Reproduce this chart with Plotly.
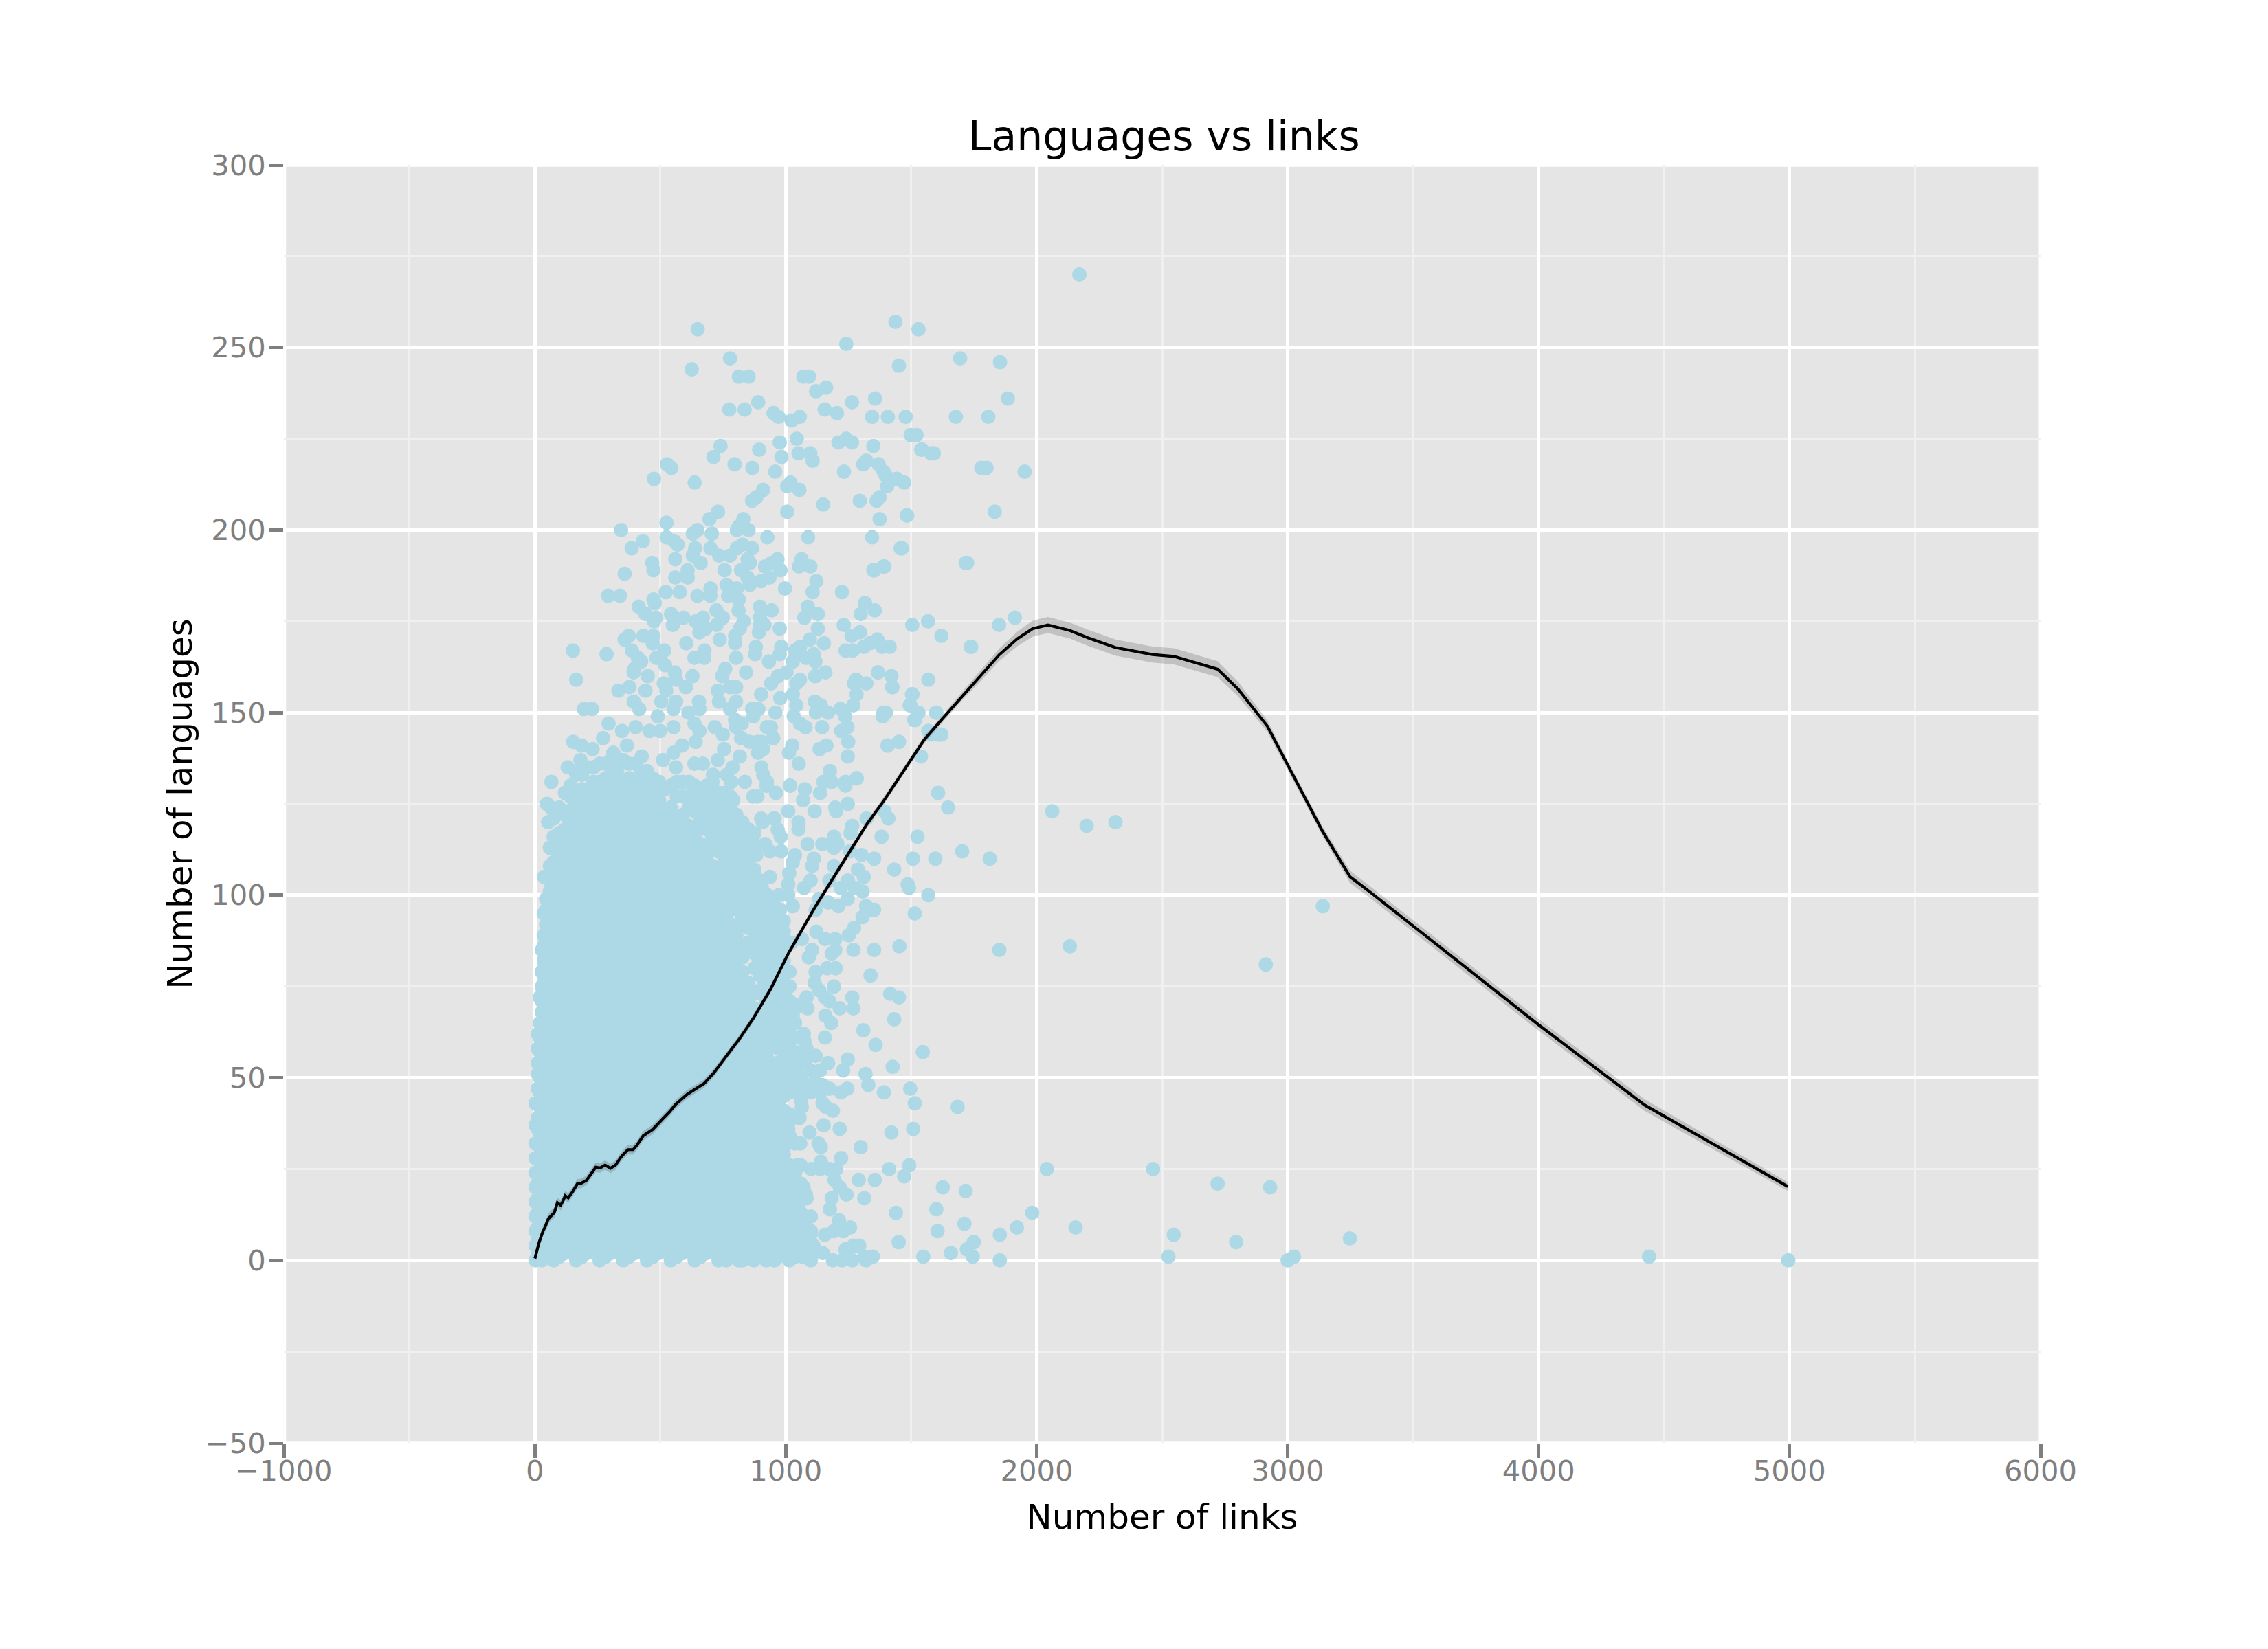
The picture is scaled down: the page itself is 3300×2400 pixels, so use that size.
import plotly.graph_objects as go

# ---------- tick values / text ----------
title_text = "Languages vs links"
x_label = "Number of links"
y_label = "Number of languages"
x_ticks = [-1000, 0, 1000, 2000, 3000, 4000, 5000, 6000]
y_ticks = [-50, 0, 50, 100, 150, 200, 250, 300]

# ---------- dense mass: one list of language counts for each link count ----------
core_links = [3, 12, 20, 28, 36, 45, 60, 75, 98, 120, 142, 165, 188, 210, 234, 258, 282, 305, 328, 352, 376, 400, 424,
              447, 471, 495, 518, 542, 566, 590, 614, 637, 661, 685, 708, 732, 756, 780, 803, 827, 851, 875, 898, 922,
              946, 970, 992, 1015, 1037, 1060, 1080, 1100]
core_langs = [
    [0, 4, 8, 12, 16, 20, 24, 28, 32, 37, 43],
    [2, 6, 9, 13, 17, 21, 24, 28, 32, 36, 39, 43, 47, 51, 54, 58, 62],
    [1, 5, 9, 12, 16, 20, 24, 27, 31, 35, 39, 42, 46, 50, 54, 57, 61, 65, 72],
    [0, 4, 8, 11, 15, 19, 23, 26, 30, 34, 38, 41, 45, 49, 53, 56, 60, 64, 68, 71, 75, 79, 85],
    [3, 7, 11, 14, 18, 22, 26, 29, 33, 37, 41, 44, 48, 52, 56, 59, 63, 67, 71, 74, 78, 82, 86, 89, 95],
    [2, 6, 9, 13, 17, 21, 24, 28, 32, 36, 39, 43, 47, 51, 54, 58, 62, 66, 69, 73, 77, 81, 84, 88, 92, 96, 99, 105],
    [3, 7, 11, 14, 18, 22, 26, 29, 33, 37, 41, 44, 48, 52, 56, 59, 63, 67, 71, 74, 78, 82, 86, 89, 93, 97, 101, 104, 108, 113],
    [0, 4, 8, 11, 15, 19, 23, 26, 30, 34, 38, 41, 45, 49, 53, 56, 60, 64, 68, 71, 75, 79, 83, 86, 90, 94, 98, 101, 105, 109, 113, 116, 121],
    [1, 5, 9, 12, 16, 20, 24, 27, 31, 35, 39, 42, 46, 50, 54, 57, 61, 65, 69, 72, 76, 80, 84, 87, 91, 95, 99, 102, 106, 110, 114, 117, 124],
    [2, 6, 9, 13, 17, 21, 24, 28, 32, 36, 39, 43, 47, 51, 54, 58, 62, 66, 69, 73, 77, 81, 84, 88, 92, 96, 99, 103, 107, 111, 114, 118, 122, 128],
    [3, 7, 11, 14, 18, 22, 26, 29, 33, 37, 41, 44, 48, 52, 56, 59, 63, 67, 71, 74, 78, 82, 86, 89, 93, 97, 101, 104, 108, 112, 116, 119, 123, 127, 130],
    [0, 4, 8, 11, 15, 19, 23, 26, 30, 34, 38, 41, 45, 49, 53, 56, 60, 64, 68, 71, 75, 79, 83, 86, 90, 94, 98, 101, 105, 109, 113, 116, 120, 124, 128, 133],
    [1, 5, 9, 12, 16, 20, 24, 27, 31, 35, 39, 42, 46, 50, 54, 57, 61, 65, 69, 72, 76, 80, 84, 87, 91, 95, 99, 102, 106, 110, 114, 117, 121, 125, 129, 133],
    [2, 6, 9, 13, 17, 21, 24, 28, 32, 36, 39, 43, 47, 51, 54, 58, 62, 66, 69, 73, 77, 81, 84, 88, 92, 96, 99, 103, 107, 111, 114, 118, 122, 126, 129, 135],
    [3, 7, 11, 14, 18, 22, 26, 29, 33, 37, 41, 44, 48, 52, 56, 59, 63, 67, 71, 74, 78, 82, 86, 89, 93, 97, 101, 104, 108, 112, 116, 119, 123, 127, 131, 135],
    [0, 4, 8, 11, 15, 19, 23, 26, 30, 34, 38, 41, 45, 49, 53, 56, 60, 64, 68, 71, 75, 79, 83, 86, 90, 94, 98, 101, 105, 109, 113, 116, 120, 124, 128, 131, 136],
    [1, 5, 9, 12, 16, 20, 24, 27, 31, 35, 39, 42, 46, 50, 54, 57, 61, 65, 69, 72, 76, 80, 84, 87, 91, 95, 99, 102, 106, 110, 114, 117, 121, 125, 129, 132, 136],
    [2, 6, 9, 13, 17, 21, 24, 28, 32, 36, 39, 43, 47, 51, 54, 58, 62, 66, 69, 73, 77, 81, 84, 88, 92, 96, 99, 103, 107, 111, 114, 118, 122, 126, 129, 133, 137],
    [3, 7, 11, 14, 18, 22, 26, 29, 33, 37, 41, 44, 48, 52, 56, 59, 63, 67, 71, 74, 78, 82, 86, 89, 93, 97, 101, 104, 108, 112, 116, 119, 123, 127, 131, 134, 137],
    [0, 4, 8, 11, 15, 19, 23, 26, 30, 34, 38, 41, 45, 49, 53, 56, 60, 64, 68, 71, 75, 79, 83, 86, 90, 94, 98, 101, 105, 109, 113, 116, 120, 124, 128, 131, 137],
    [1, 5, 9, 12, 16, 20, 24, 27, 31, 35, 39, 42, 46, 50, 54, 57, 61, 65, 69, 72, 76, 80, 84, 87, 91, 95, 99, 102, 106, 110, 114, 117, 121, 125, 129, 132, 136],
    [2, 6, 9, 13, 17, 21, 24, 28, 32, 36, 39, 43, 47, 51, 54, 58, 62, 66, 69, 73, 77, 81, 84, 88, 92, 96, 99, 103, 107, 111, 114, 118, 122, 126, 129, 136],
    [3, 7, 11, 14, 18, 22, 26, 29, 33, 37, 41, 44, 48, 52, 56, 59, 63, 67, 71, 74, 78, 82, 86, 89, 93, 97, 101, 104, 108, 112, 116, 119, 123, 127, 131, 134],
    [0, 4, 8, 11, 15, 19, 23, 26, 30, 34, 38, 41, 45, 49, 53, 56, 60, 64, 68, 71, 75, 79, 83, 86, 90, 94, 98, 101, 105, 109, 113, 116, 120, 124, 128, 134],
    [1, 5, 9, 12, 16, 20, 24, 27, 31, 35, 39, 42, 46, 50, 54, 57, 61, 65, 69, 72, 76, 80, 84, 87, 91, 95, 99, 102, 106, 110, 114, 117, 121, 125, 129, 132],
    [2, 6, 9, 13, 17, 21, 24, 28, 32, 36, 39, 43, 47, 51, 54, 58, 62, 66, 69, 73, 77, 81, 84, 88, 92, 96, 99, 103, 107, 111, 114, 118, 122, 126, 131],
    [3, 7, 11, 14, 18, 22, 26, 29, 33, 37, 41, 44, 48, 52, 56, 59, 63, 67, 71, 74, 78, 82, 86, 89, 93, 97, 101, 104, 108, 112, 116, 119, 123, 129],
    [0, 4, 8, 11, 15, 19, 23, 26, 30, 34, 38, 41, 45, 49, 53, 56, 60, 64, 68, 71, 75, 79, 83, 86, 90, 94, 98, 101, 105, 109, 113, 116, 120, 124, 130],
    [1, 5, 9, 12, 16, 20, 24, 27, 31, 35, 39, 42, 46, 50, 54, 57, 61, 65, 69, 72, 76, 80, 84, 87, 91, 95, 99, 102, 106, 110, 114, 117, 121, 127, 131],
    [2, 6, 9, 13, 17, 21, 24, 28, 32, 36, 39, 43, 47, 51, 54, 58, 62, 66, 69, 73, 77, 81, 84, 88, 92, 96, 99, 103, 107, 111, 114, 118, 122, 127, 131],
    [3, 7, 11, 14, 18, 22, 26, 29, 33, 37, 41, 44, 48, 52, 56, 59, 63, 67, 71, 74, 78, 82, 86, 89, 93, 97, 101, 104, 108, 112, 116, 119, 124, 127, 131],
    [0, 4, 8, 11, 15, 19, 23, 26, 30, 34, 38, 41, 45, 49, 53, 56, 60, 64, 68, 71, 75, 79, 83, 86, 90, 94, 98, 101, 105, 109, 113, 116, 123, 127, 130],
    [1, 5, 9, 12, 16, 20, 24, 27, 31, 35, 39, 42, 46, 50, 54, 57, 61, 65, 69, 72, 76, 80, 84, 87, 91, 95, 99, 102, 106, 110, 114, 119, 121, 125, 129],
    [2, 6, 9, 13, 17, 21, 24, 28, 32, 36, 39, 43, 47, 51, 54, 58, 62, 66, 69, 73, 77, 81, 84, 88, 92, 96, 99, 103, 107, 111, 118, 122, 126, 130],
    [3, 7, 11, 14, 18, 22, 26, 29, 33, 37, 41, 44, 48, 52, 56, 59, 63, 67, 71, 74, 78, 82, 86, 89, 93, 97, 101, 104, 108, 114, 116, 119, 123, 127, 131],
    [0, 4, 8, 11, 15, 19, 23, 26, 30, 34, 38, 41, 45, 49, 53, 56, 60, 64, 68, 71, 75, 79, 83, 86, 90, 94, 98, 101, 105, 112, 116, 120, 124, 128],
    [1, 5, 9, 12, 16, 20, 24, 27, 31, 35, 39, 42, 46, 50, 54, 57, 61, 65, 69, 72, 76, 80, 84, 87, 91, 95, 99, 102, 108, 110, 114, 117, 121, 125, 128],
    [2, 6, 9, 13, 17, 21, 24, 28, 32, 36, 39, 43, 47, 51, 54, 58, 62, 66, 69, 73, 77, 81, 84, 88, 92, 96, 99, 105, 109, 113, 116, 120, 124, 127],
    [3, 7, 11, 14, 18, 22, 26, 29, 33, 37, 41, 44, 48, 52, 56, 59, 63, 67, 71, 74, 78, 82, 86, 89, 97, 101, 104, 108, 112, 116, 119, 122],
    [0, 4, 8, 11, 15, 19, 23, 26, 30, 34, 38, 41, 45, 49, 53, 56, 60, 64, 68, 71, 75, 79, 83, 86, 92, 94, 98, 101, 105, 109, 113, 116, 120],
    [1, 5, 9, 12, 16, 20, 24, 27, 31, 35, 39, 42, 46, 50, 54, 57, 61, 65, 69, 72, 76, 85, 87, 91, 95, 99, 102, 106, 110, 114, 118],
    [2, 6, 9, 13, 17, 21, 24, 28, 32, 36, 39, 43, 47, 51, 54, 58, 62, 66, 69, 73, 80, 84, 88, 92, 96, 99, 103, 107, 111, 114, 117],
    [3, 7, 11, 14, 18, 22, 26, 29, 33, 37, 41, 44, 48, 52, 56, 59, 63, 67, 73, 74, 78, 82, 86, 89, 93, 97, 101, 104],
    [0, 4, 8, 11, 15, 19, 23, 26, 30, 34, 38, 41, 45, 49, 53, 56, 60, 64, 68, 71, 75, 79, 83, 86, 90, 94, 98, 100],
    [1, 5, 9, 12, 16, 20, 24, 27, 31, 35, 39, 42, 46, 50, 54, 59, 61, 65, 69, 72, 76, 80, 84, 87, 91, 95, 98],
    [2, 6, 9, 13, 17, 21, 24, 28, 32, 36, 39, 43, 47, 52, 54, 58, 62, 66, 69, 73, 77, 81, 84, 88, 92, 95],
    [3, 7, 11, 14, 18, 22, 26, 29, 33, 37, 41, 45, 49, 52, 56, 59, 63, 67, 71, 74, 78, 82, 86, 90, 93],
    [0, 4, 8, 11, 15, 19, 23, 26, 34, 40, 46, 50, 53, 56, 60, 64, 68, 71, 75, 79],
    [1, 5, 9, 12, 16, 20, 24, 32, 47, 52, 54, 57, 61, 65, 69],
    [2, 6, 9, 13, 17, 21, 26, 44, 50, 54],
    [3, 7, 11, 18, 48, 55],
    [0, 4, 8, 12, 46, 52],
]

# ---------- individually read points, region by region ----------
top_points = [
    (2170,270),(1437,257),(1529,255),(649,255),(1241,251),(778,247),(1695,247),(1854,246),(1451,245),(625,244),
    (813,242),(852,242),(1070,242),(1093,242),(1161,239),(1121,238),(1885,236),(1356,236),(1264,235),(890,235),
    (775,233),(836,233),(951,232),(971,231),(1023,230),(1056,231),(1155,233),(1204,232),(1344,231),(1407,231),
    (1478,231),(1678,231),(1807,231),(1498,226),(1521,226),(1044,225),(976,224),(1210,224),(1241,225),(1264,224),
    (1349,223),(740,223),(894,222),(1543,222),(1590,221),(1051,221),(1098,221),(1107,219),(983,220),(712,220),
    (527,218),(544,217),(796,218),(867,217),(1309,218),(1321,219),(1370,218),(1390,216),(1398,215),(1442,214),
    (1472,213),(1404,212),(1779,217),(1800,217),(1952,216),(958,216),(1232,216),(475,214),(637,213),(910,211),
    (1006,212),(1019,213),(1054,211),(883,209),(866,208),(1149,207),(1295,208),(1374,209),(1362,208),(1833,205),
    (1006,205),(1484,204),(1374,203),(730,205),(696,203),(525,202),(831,203),(813,201),(805,200),(852,200),
    (648,200),(630,199),(705,199),(344,200),(525,198),(431,197),(555,197),(569,196),(386,195),(927,198),
    (1089,198),(1344,198),(1463,195),(639,195),(700,195),(630,193),(866,195),(805,195),(827,196),(735,193),
    (778,193),(560,192),(848,192),(967,192),(1063,192),(661,191),(468,191),(473,189),(857,191),(1723,191),
    (1393,190),(1353,189),(1053,190),(1098,190),(918,190),(944,191),(979,189),(822,189),(756,189),(358,188),
    (560,187),(609,189),(609,187),(1122,186),(901,186),(935,187),(848,187),(997,184),(857,185),(764,185),
    (805,184),(1107,183),(1224,183),(700,184),(522,183),(578,183),(770,182),(813,181),(648,182),(700,182),(473,181),
]
shoulder_points = [
    (292,182),(340,182),(414,179),(441,177),(475,175),(483,176),(478,180),(543,177),(550,174),(592,176),
    (641,175),(656,172),(680,173),(724,174),(749,176),(724,178),(670,176),(812,178),(832,175),(817,173),
    (798,171),(798,169),(897,179),(944,178),(897,176),(897,174),(915,174),(893,172),(976,173),(1088,179),
    (1128,177),(1074,176),(1128,173),(1316,180),(1355,178),(1299,177),(1231,174),(1296,172),(1262,171),(1096,170),
    (1152,169),(358,170),(374,171),(433,171),(472,171),(470,169),(604,169),(737,170),(152,167),(286,166),
    (387,167),(411,165),(424,164),(397,162),(394,161),(516,167),(485,165),(519,163),(636,165),(675,165),
    (676,167),(802,165),(881,168),(878,166),(982,168),(976,166),(933,164),(1057,168),(1037,167),(1028,164),
    (1081,165),(1111,166),(1118,164),(1238,167),(1267,167),(1311,168),(1335,169),(1365,170),(1384,168),(1414,168),
    (759,162),(747,160),(842,161),(1003,161),(969,160),(942,158),(1057,159),(1042,158),(1117,160),(1158,161),
    (1368,161),(1421,160),(1424,157),(1280,159),(1272,158),(1321,158),(1282,155),(165,159),(333,156),(377,157),
    (394,153),(450,160),(558,161),(563,159),(628,160),(514,158),(441,156),(524,156),(602,157),(729,156),
    (778,157),(802,157),(802,153),(734,153),(654,153),(563,153),(504,153),(416,151),(490,149),(553,151),
    (612,150),(656,151),(778,151),(196,151),(228,151),(902,155),(866,151),(978,154),(1028,155),(1042,152),
    (959,150),(891,151),(1116,153),(1140,152),(1169,150),(1120,150),(1032,149),(1057,147),(1079,146),(1145,146),
    (1218,151),(1236,149),(1246,146),(1221,145),(1269,152),(1399,150),(1386,149),(1505,155),(1497,152),(1516,148),
    (871,149),(798,148),(825,147),(802,146),(941,146),(925,146),(949,143),(822,143),(856,142),(903,142),
    (910,140),(889,139),(1026,141),(1013,139),(1052,136),(1135,140),(1162,141),(1249,142),(1247,138),(1176,134),
    (1150,131),(1282,132),(1238,131),(1406,141),(1451,142),(903,135),(910,133),(925,131),(1018,130),(294,147),
    (272,143),(186,141),(230,140),(182,137),(131,135),(172,134),(66,131),(348,145),(402,146),(457,145),
    (499,145),(553,146),(636,147),(656,145),(717,146),(749,144),(641,142),(587,141),(553,139),(511,137),
    (313,139),(367,141),(426,138),(754,140),(817,138),(729,137),(788,135),(636,136),(563,135),(670,136),
    (837,131),(710,133),
]
upper_core_points = [
    (129,128),(48,125),(64,124),(53,120),(153,124),(100,117),(37,105),(69,108),(153,142),(824,143),
    (887,142),(950,143),(924,130),(961,128),(887,127),(908,120),(955,121),(856,117),(824,120),(791,126),
    (643,124),(765,133),(783,131),(870,127),
]
middle_points = [
    (1283,132),(1238,130),(1183,131),(1137,128),(1076,129),(1016,130),(923,130),(1069,126),(1115,123),(1197,124),
    (1201,123),(1247,125),(1010,123),(902,121),(953,121),(968,118),(980,116),(1051,120),(1051,118),(1087,114),
    (1146,114),(1192,116),(1206,114),(1192,113),(1265,119),(1258,117),(1322,121),(1393,123),(1409,121),(1382,116),
    (1352,110),(1302,111),(1256,112),(1432,107),(918,114),(982,112),(1037,111),(937,112),(836,110),(882,111),
    (1112,110),(1105,108),(1028,109),(1014,106),(937,105),(836,104),(1010,103),(1192,108),(1247,104),(1288,107),
    (1311,105),(1099,104),(1174,104),(1073,102),(1010,100),(1219,102),(1306,101),(1274,102),(1247,99),(905,102),
    (927,100),(973,100),(1133,99),(1169,98),(1210,97),(1028,97),(978,96),(1119,96),(907,96),(1320,97),
    (1352,96),(1329,96),(1306,94),(1272,91),(1251,89),(1122,90),(1156,88),(1197,88),(1270,85),(1352,85),
    (1023,87),(1064,88),(968,85),(1105,85),(1183,84),(1197,85),(1165,80),(1199,80),(1338,78),(1092,83),
    (1119,79),(1115,76),(1133,74),(1192,75),(1416,73),(1265,72),(1083,72),(1156,72),(1041,70),(1087,69),
    (1174,71),(1215,69),(1270,69),(1432,66),(1028,67),(1158,67),(1181,65),(1309,63),(1072,62),(1075,60),
    (1156,61),(1358,59),
]
low_points = [
    (1083,58),(1119,56),(1169,54),(1247,55),(1229,52),(1318,51),(1329,48),(1426,53),(1137,52),(1115,49),
    (1147,48),(1174,47),(1220,46),(1245,47),(1137,46),(1391,46),(1496,47),(1514,43),(1147,43),(1160,42),
    (1188,41),(1060,45),(1064,42),(1028,39),(1055,39),(1010,36),(1151,37),(1215,36),(1095,35),(1058,32),
    (1131,32),(1140,31),(1299,31),(1421,35),(1508,36),(991,30),(1221,28),(1140,27),(1201,25),(1005,26),
    (1046,26),(937,27),(1028,23),(1101,25),(1137,25),(1174,25),(1412,25),(1492,26),(1472,23),(1071,20),
    (1194,22),(1291,22),(1355,22),(1242,18),(1215,20),(1183,17),(1083,17),(1313,17),(1176,14),(1051,14),
    (1019,19),(991,18),(1439,13),(1212,11),(1060,11),(1256,9),(1229,8),(1192,8),(1156,7),(1450,5),
    (1099,7),(1046,5),(1069,1),(1096,1),(1147,2),(1188,0),(1224,0),(1265,0),(1320,0),(1347,1),
    (1238,3),(1270,4),(1293,4),(1315,1),(1110,4),(1000,1),(955,0),(873,0),(813,0),(763,0),
]
right_points = [
    (1451,142),(1406,141),(1525,150),(1600,150),(1568,145),(1610,144),(1539,138),(1607,128),(1647,124),(1525,116),
    (1507,110),(1596,110),(1703,112),(1813,110),(1486,103),(1491,102),(1568,100),(1514,95),(1453,86),(1851,85),
    (2132,86),(1451,72),(1546,57),(1685,42),(1600,14),(1626,20),(1717,19),(1712,10),(1605,8),(1658,2),
    (1548,1),(1722,3),(1749,5),(1745,1),(1853,7),(1853,0),(1982,13),(1921,9),(2155,9),(2040,25),
    (2464,25),(2721,21),(2930,20),(2546,7),(3248,6),(2525,1),(2795,5),(3000,0),(3025,1),(4440,1),
    (4995,0),(2062,123),(2199,119),(2314,120),(2913,81),(3140,97),(1504,174),(1567,175),(1620,171),(1739,168),
    (1717,191),(1850,174),(1913,176),(1580,144),(1620,144),(1349,189),(1389,190),(1458,195),(1482,204),(1540,222),
    (1580,221),(1568,159),(1737,168),(1503,155),(1529,150),(1599,150),(1512,148),(1389,150),(1367,161),(1425,157),
    (1494,152),
]

# ---------- smoother line and its standard error ----------
smooth_links = [0.5, 17, 33, 41, 54, 66, 78, 90, 103, 112, 121, 133, 151, 170, 182, 206, 225, 243, 261, 280,
                302, 322, 347, 371, 392, 408, 432, 469, 512, 536, 561, 608, 674, 713, 765, 818, 870, 940, 1010, 1114,
                1219, 1324, 1394, 1481, 1551, 1629, 1703, 1776, 1850, 1923, 1984, 2045, 2131, 2204, 2314, 2461,
                2547, 2721, 2803, 2919, 2999, 3139, 3249, 3335, 4000, 4423, 4993]
smooth_langs = [0.5, 4.9, 8.1, 9.1, 11.4, 12.4, 13.1, 15.8, 15.1, 16.2, 17.7, 17.1, 18.8, 21, 21, 21.9, 23.8, 25.5, 25.3, 26.1,
                25.2, 26.1, 28.6, 30.3, 30.3, 31.6, 34.1, 35.8, 38.9, 40.6, 42.7, 45.5, 48.4, 51.3, 56.1, 60.9, 66.2, 74.3, 84, 96.4,
                108, 119.5, 126.2, 135.3, 142.5, 148.7, 154.5, 160, 165.8, 170.2, 173, 174, 172.5, 170.5, 167.8, 165.9,
                165.4, 161.9, 156.4, 146.3, 135.7, 117.5, 105, 100.5, 64.5, 42.5, 20.2]
smooth_se = [0.6, 1.2, 1.4, 1.4, 1.4, 1.4, 1.4, 1.4, 1.4, 1.4, 1.3, 1.3, 1.3, 1.3, 1.3, 1.3, 1.3, 1.3, 1.3, 1.3,
             1.3, 1.3, 1.3, 1.3, 1.3, 1.3, 1.3, 1.3, 1.2, 1.2, 1.2, 1.2, 1.1, 1.1, 1.0, 1.0, 1.0, 1.0, 1.0, 1.0,
             1.0, 1.0, 1.0, 1.0, 1.0, 1.0, 1.1, 1.4, 1.7, 2.0, 2.2, 2.2, 2.2, 2.2, 2.2, 2.2,
             2.2, 2.2, 2.0, 1.6, 1.3, 1.3, 1.7, 1.6, 1.6, 1.6, 1.2]

# ---------- flatten ----------
pt_links, pt_langs = [], []
for x_val, ys in zip(core_links, core_langs):
    for y_val in ys:
        pt_links.append(x_val)
        pt_langs.append(y_val)
for group in (top_points, shoulder_points, upper_core_points, middle_points, low_points, right_points):
    for x_val, y_val in group:
        pt_links.append(x_val)
        pt_langs.append(y_val)

upper = [v + e for v, e in zip(smooth_langs, smooth_se)]
lower = [v - e for v, e in zip(smooth_langs, smooth_se)]

fig = go.Figure()
fig.add_trace(go.Scatter(x=pt_links, y=pt_langs, mode="markers",
                         marker=dict(size=21, color="#add8e6", line=dict(width=0)),
                         cliponaxis=False, showlegend=False))
fig.add_trace(go.Scatter(x=smooth_links + smooth_links[::-1], y=upper + lower[::-1], mode="lines",
                         line=dict(width=0), fill="toself", fillcolor="rgba(51,51,51,0.2)",
                         showlegend=False))
fig.add_trace(go.Scatter(x=smooth_links, y=smooth_langs, mode="lines",
                         line=dict(color="black", width=4.2), showlegend=False))

tick_font = dict(family="DejaVu Sans", size=41.67, color="#7f7f7f")
label_font = dict(family="DejaVu Sans", size=50, color="black")

axis_common = dict(
    showline=False, zeroline=False, showgrid=True, gridcolor="white", gridwidth=5,
    ticks="outside", ticklen=21, tickwidth=5, tickcolor="#7f7f7f", tickfont=tick_font,
    tickmode="array", automargin=False, layer="below traces",
)
fig.update_layout(
    width=3300, height=2400, autosize=False,
    margin=dict(l=412.8, r=331, t=239.8, b=300.3, autoexpand=False),
    paper_bgcolor="white", plot_bgcolor="white",
    font=dict(family="DejaVu Sans"),
    title=dict(text=title_text, x=0.5133, xref="container", xanchor="center", y=1 - 198 / 2400,
               yref="container", yanchor="middle", font=dict(family="DejaVu Sans", size=60, color="black")),
    xaxis=dict(range=[-1000, 6000], tickvals=x_ticks, ticktext=[str(v).replace("-", "\u2212") for v in x_ticks],
               ticklabelstandoff=-17,
               minor=dict(dtick=500, showgrid=True, gridcolor="#f0f0f0", gridwidth=3, ticks=""),
               title=dict(text=x_label, font=label_font, standoff=25), **axis_common),
    yaxis=dict(range=[-50, 300], tickvals=y_ticks, ticktext=[str(v).replace("-", "\u2212") for v in y_ticks],
               ticklabelstandoff=-4,
               minor=dict(dtick=25, showgrid=True, gridcolor="#f0f0f0", gridwidth=3, ticks=""),
               title=dict(text=y_label, font=label_font, standoff=3), **axis_common),
    shapes=[dict(type="rect", xref="x domain", yref="y domain", x0=0.00125, x1=0.9990, y0=0.0015, y1=0.9985,
                 fillcolor="#e5e5e5", line=dict(width=0), layer="below")],
)
fig.write_html("out.html", config=dict(displayModeBar=False), post_script="document.body.style.margin='0';")
